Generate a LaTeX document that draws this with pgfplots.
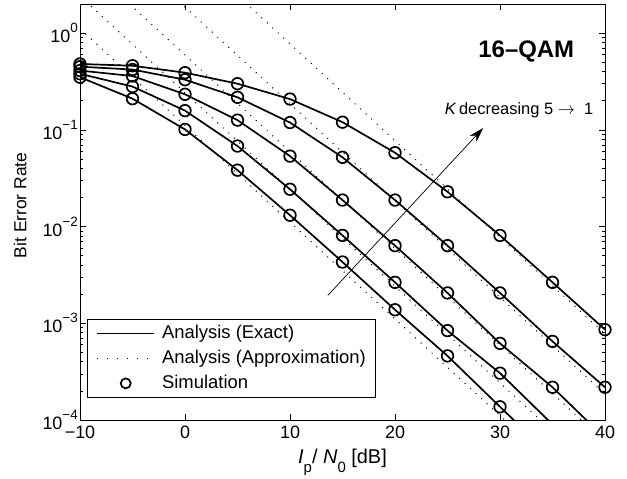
\documentclass[border=0pt]{standalone}
\usepackage{fontspec}
\setmainfont{Liberation Sans}
\usepackage{pgfplots}
\pgfplotsset{compat=1.18}
\usetikzlibrary{arrows.meta}

\newcommand{\expo}[1]{\raisebox{0.55em}{\fontsize{13.5}{13.5}\selectfont #1}}
\newcommand{\lowr}[1]{\raisebox{-9bp}{\fontsize{15}{15}\selectfont #1}}

\begin{document}
\begin{tikzpicture}
\begin{axis}[
    scale only axis,
    width=525bp, height=416bp,
    xmin=-10, xmax=40,
    ymode=log, ymin=1e-4, ymax=2,
    xtick={-10,0,...,40},
    xticklabels={−10,0,10,20,30,40},
    ytick={1e-4,1e-3,1e-2,1e-1,1},
    yticklabels={10\expo{−4},10\expo{−3},10\expo{−2},10\expo{−1},10\expo{0}},
    tick align=inside, tick pos=both,
    major tick length=6bp, minor tick length=3bp,
    every tick/.style={black, line width=0.6bp},
    axis line style={line width=0.9bp},
    tick label style={font=\fontsize{18}{21}\selectfont},
    xticklabel style={yshift=-2bp},
    yticklabel style={inner xsep=2bp},
    xlabel={\fontsize{20}{24}\selectfont\textit{I}\lowr{p}/ \textit{N}\lowr{0} [dB]},
    ylabel={Bit Error Rate},
    ylabel style={font=\fontsize{17.5}{20}\selectfont, at={(axis description cs:-0.114,0.516)}, anchor=center},
    xlabel style={at={(axis description cs:0.5,-0.1034)}, anchor=base},
    legend style={at={(axis description cs:0.0133,0.0529)}, anchor=south west,
        draw=black, line width=0.8bp, fill=white,
        font=\fontsize{18.5}{21}\selectfont,
        nodes={inner sep=0bp, text height=13.5bp, text depth=4bp},
        row sep=7.5bp, column sep=7bp,
        inner xsep=9bp, inner ysep=5.5bp},
    legend cell align=left,
]

% analysis, exact (solid)
\addplot[black, line width=1.7pt, forget plot] coordinates {
(-10,0.48) (-5,0.46) (0,0.39) (5,0.30) (10,0.208) (15,0.12) (20,0.058) (25,0.0229) (30,0.0081) (35,0.00265) (40,8.6e-4)};
\addplot[black, line width=1.7pt, forget plot] coordinates {
(-10,0.45) (-5,0.42) (0,0.33) (5,0.217) (10,0.119) (15,0.052) (20,0.0188) (25,0.00635) (30,0.00206) (35,6.5e-4) (40,2.18e-4)};
\addplot[black, line width=1.7pt, forget plot] coordinates {
(-10,0.41) (-5,0.36) (0,0.233) (5,0.126) (10,0.0535) (15,0.0188) (20,0.00635) (25,0.00206) (30,6.2e-4) (35,2.18e-4) (40,6.5e-5)};
\addplot[black, line width=1.7pt, forget plot] coordinates {
(-10,0.38) (-5,0.28) (0,0.158) (5,0.068) (10,0.0243) (15,0.0081) (20,0.00265) (25,8.4e-4) (30,3.05e-4) (35,9e-5)};
\addplot[black, line width=1.7pt, forget plot] coordinates {
(-10,0.35) (-5,0.21) (0,0.101) (5,0.0383) (10,0.0131) (15,0.0043) (20,0.00138) (25,4.6e-4) (30,1.37e-4) (35,4.1e-5)};

% analysis, approximation (dotted)
\addplot[black, line width=1pt, dash pattern=on 1pt off 6.5pt, forget plot] coordinates {(-10,77.4) (40,7.74e-4)};
\addplot[black, line width=1pt, dash pattern=on 1pt off 6.5pt, forget plot] coordinates {(-10,18.6) (40,1.86e-4)};
\addplot[black, line width=1pt, dash pattern=on 1pt off 6.5pt, forget plot] coordinates {(-10,5.94) (40,5.94e-5)};
\addplot[black, line width=1pt, dash pattern=on 1pt off 6.5pt, forget plot] coordinates {(-10,2.42) (40,2.42e-5)};
\addplot[black, line width=1pt, dash pattern=on 1pt off 6.5pt, forget plot] coordinates {(-10,1.109) (40,1.109e-5)};

% simulation (circles)
\addplot[only marks, mark=o, mark size=5.8bp, black, line width=1.7pt, forget plot] coordinates {
(-10,0.48) (-5,0.46) (0,0.39) (5,0.30) (10,0.208) (15,0.12) (20,0.058) (25,0.0229) (30,0.0081) (35,0.00265) (40,8.6e-4)
(-10,0.45) (-5,0.42) (0,0.33) (5,0.217) (10,0.119) (15,0.052) (20,0.0188) (25,0.00635) (30,0.00206) (35,6.5e-4) (40,2.18e-4)
(-10,0.41) (-5,0.36) (0,0.233) (5,0.126) (10,0.0535) (15,0.0188) (20,0.00635) (25,0.00206) (30,6.2e-4) (35,2.18e-4)
(-10,0.38) (-5,0.28) (0,0.158) (5,0.068) (10,0.0243) (15,0.0081) (20,0.00265) (25,8.4e-4) (30,3.05e-4)
(-10,0.35) (-5,0.21) (0,0.101) (5,0.0383) (10,0.0131) (15,0.0043) (20,0.00138) (25,4.6e-4) (30,1.37e-4)};

\addlegendimage{legend image code/.code={\draw[black,line width=1.7pt] (0bp,0bp) -- (57bp,0bp);}}
\addlegendentry{Analysis (Exact)}
\addlegendimage{legend image code/.code={\draw[black,line width=1pt,dash pattern=on 1pt off 9pt] (0bp,0bp) -- (57bp,0bp);}}
\addlegendentry{Analysis (Approximation)}
\addlegendimage{legend image code/.code={\path[draw=none] (0bp,0bp) -- (57bp,0bp); \draw[black,line width=1.7pt] (28.5bp,0bp) circle (5bp);}}
\addlegendentry{Simulation}

\draw[black, line width=0.7pt, -{Stealth[length=15bp,width=9bp]}] (axis cs:13.6,1.94e-3) -- (axis cs:28.4,0.1045);
\node[anchor=east, inner sep=0pt, font=\fontsize{16.5}{19}\selectfont] at (axis cs:38.9,0.16) {\textit{K}\,decreasing 5 $\rightarrow$\ \ 1};
\node[anchor=center, inner sep=0pt, font=\fontsize{24}{27}\selectfont\bfseries] at (axis cs:32.5,0.64) {16–QAM};
\end{axis}
\path (current axis.south west) ++(-80bp,-58bp) coordinate (bbA);
\path (current axis.north east) ++(22bp,4bp) coordinate (bbB);
\pgfresetboundingbox
\path (bbA) rectangle (bbB);
\end{tikzpicture}
\end{document}
